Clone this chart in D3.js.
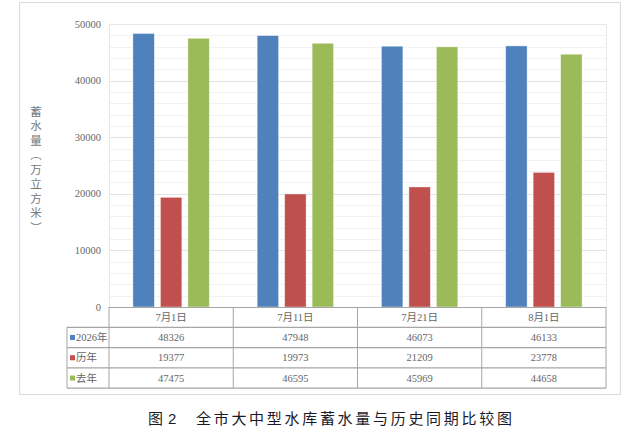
<!DOCTYPE html>
<html>
<head>
<meta charset="utf-8">
<script src="https://cdn.jsdelivr.net/npm/d3@7"></script>
<style>
  body { margin: 0; background: #fff; }
  svg { display: block; }
</style>
</head>
<body>
<svg id="chart" width="635" height="434"></svg>
<script>
// data
var categories = ['7月1日', '7月11日', '7月21日', '8月1日']
var seriesNames = ['2026年', '历年', '去年']
var values2026 = [48326, 47948, 46073, 46133]
var valuesHistory = [19377, 19973, 21209, 23778]
var valuesLastYear = [47475, 46595, 45969, 44658]
var yTicks = [0, 10000, 20000, 30000, 40000, 50000]

var series = [values2026, valuesHistory, valuesLastYear]
var colors = ['#4f81bd', '#c0504d', '#9bbb59']

var svg = d3.select('#chart')
var serif = "'Liberation Serif', 'Noto Sans CJK SC', serif"
var cjk = "'Noto Sans CJK SC', sans-serif"
var textGrey = '#666666'

var plotL = 109, plotR = 606, plotT = 24, plotB = 307
var rowH = 20.3
var legendLeft = 67

// outer frame
svg.append('rect')
  .attr('x', 19.5).attr('y', 2.5)
  .attr('width', 601).attr('height', 392)
  .attr('fill', 'none').attr('stroke', '#d9d9d9')

var y = d3.scaleLinear().domain([0, 50000]).range([plotB, plotT])
var x0 = d3.scaleBand().domain(categories).range([plotL, plotR]).padding(0)
var x1 = d3.scaleBand().domain(d3.range(3)).range([0, x0.bandwidth()])
  .paddingInner(0.22).paddingOuter(0.87)

// grid lines, minor every 2000
svg.append('g').selectAll('line')
  .data(d3.range(0, 50001, 2000))
  .enter().append('line')
  .attr('x1', plotL).attr('x2', plotR)
  .attr('y1', function(d) { return Math.round(y(d)) + 0.5 })
  .attr('y2', function(d) { return Math.round(y(d)) + 0.5 })
  .attr('stroke', function(d) { return d % 10000 === 0 ? '#e3e3e3' : '#f2f2f2' })

// plot area border
svg.append('rect')
  .attr('x', plotL + 0.5).attr('y', plotT + 0.5)
  .attr('width', plotR - plotL).attr('height', plotB - plotT)
  .attr('fill', 'none').attr('stroke', '#e8e8e8')

// y tick labels
svg.append('g').selectAll('text')
  .data(yTicks)
  .enter().append('text')
  .attr('x', 101)
  .attr('y', function(d) { return y(d) })
  .attr('dy', '0.35em')
  .attr('text-anchor', 'end')
  .attr('font-family', serif)
  .attr('font-size', 10.5)
  .attr('fill', textGrey)
  .text(function(d) { return d })

// y axis title, vertical
svg.append('text')
  .attr('x', 36).attr('y', 171)
  .attr('text-anchor', 'middle')
  .attr('font-family', cjk)
  .attr('font-size', 11.5)
  .attr('letter-spacing', 3)
  .attr('fill', '#777777')
  .style('writing-mode', 'vertical-rl')
  .text('蓄水量（万立方米）')

// bars
var groups = svg.append('g').selectAll('.grp')
  .data(categories)
  .enter().append('g')
  .attr('transform', function(d) { return 'translate(' + x0(d) + ',0)' })

groups.selectAll('rect')
  .data(function(d, i) { return series.map(function(s, j) { return { s: j, v: s[i] } }) })
  .enter().append('rect')
  .attr('x', function(d) { return x1(d.s) })
  .attr('y', function(d) { return y(d.v) })
  .attr('width', x1.bandwidth())
  .attr('height', function(d) { return plotB - y(d.v) })
  .attr('fill', function(d) { return colors[d.s] })
  .attr('stroke', 'rgba(255,255,255,0.5)')
  .attr('stroke-width', 0.8)

// data table
var tbl = svg.append('g')
var lineColor = '#a6a6a6'
tbl.append('line')
  .attr('x1', plotL).attr('x2', plotR)
  .attr('y1', plotB + 0.5).attr('y2', plotB + 0.5)
  .attr('stroke', lineColor)
d3.range(4).forEach(function(r) {
  var yy = plotB + rowH * (r + 1)
  tbl.append('line')
    .attr('x1', legendLeft).attr('x2', plotR)
    .attr('y1', yy).attr('y2', yy)
    .attr('stroke', lineColor).attr('stroke-width', 1.3)
})
var vx = [plotL].concat(categories.map(function(c) { return x0(c) + x0.bandwidth() }))
vx.forEach(function(xx) {
  tbl.append('line')
    .attr('x1', xx).attr('x2', xx)
    .attr('y1', plotB).attr('y2', plotB + rowH * 4)
    .attr('stroke', lineColor)
})
tbl.append('line')
  .attr('x1', legendLeft).attr('x2', legendLeft)
  .attr('y1', plotB + rowH).attr('y2', plotB + rowH * 4)
  .attr('stroke', lineColor)

// header labels
tbl.selectAll('.hdr')
  .data(categories)
  .enter().append('text')
  .attr('x', function(d) { return x0(d) + x0.bandwidth() / 2 })
  .attr('y', plotB + rowH / 2)
  .attr('dy', '0.35em')
  .attr('text-anchor', 'middle')
  .attr('font-family', serif)
  .attr('font-size', 10.5)
  .attr('fill', textGrey)
  .text(function(d) { return d })

// legend cells and values
seriesNames.forEach(function(name, j) {
  var cy = plotB + rowH * (j + 1.5)
  tbl.append('rect')
    .attr('x', 70).attr('y', cy - 2.5)
    .attr('width', 5).attr('height', 5)
    .attr('fill', colors[j])
  tbl.append('text')
    .attr('x', 76).attr('y', cy)
    .attr('dy', '0.35em')
    .attr('font-family', serif)
    .attr('font-size', 10.5)
    .attr('fill', textGrey)
    .text(name)
  tbl.selectAll('.v' + j)
    .data(series[j])
    .enter().append('text')
    .attr('x', function(d, i) { return x0(categories[i]) + x0.bandwidth() / 2 })
    .attr('y', cy)
    .attr('dy', '0.35em')
    .attr('text-anchor', 'middle')
    .attr('font-family', serif)
    .attr('font-size', 10.5)
    .attr('fill', textGrey)
    .text(function(d) { return d })
})

// caption
svg.append('text')
  .attr('x', 148).attr('y', 419)
  .attr('dy', '0.35em')
  .attr('font-family', cjk)
  .attr('font-size', 15)
  .attr('fill', '#1a1a2a')
  .text('图')
svg.append('text')
  .attr('x', 168).attr('y', 419)
  .attr('dy', '0.35em')
  .attr('font-family', "'Liberation Sans', sans-serif")
  .attr('font-size', 15)
  .attr('fill', '#1a1a2a')
  .text('2')
svg.append('text')
  .attr('x', 196).attr('y', 419)
  .attr('dy', '0.35em')
  .attr('font-family', cjk)
  .attr('font-size', 15)
  .attr('letter-spacing', 2.7)
  .attr('fill', '#1a1a2a')
  .text('全市大中型水库蓄水量与历史同期比较图')
</script>
</body>
</html>
